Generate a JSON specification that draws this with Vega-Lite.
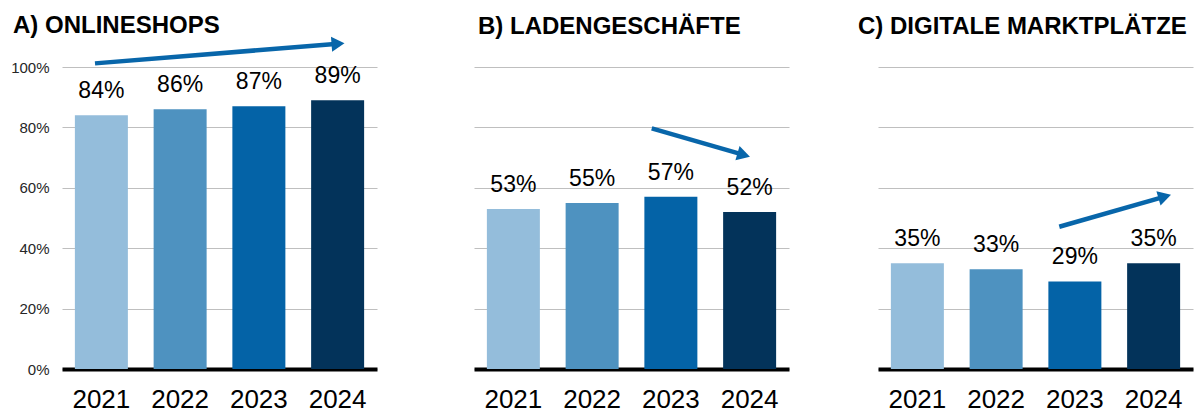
{
  "$schema": "https://vega.github.io/schema/vega-lite/v6.json",
  "background": "white",
  "padding": {"left": 10, "top": 13, "right": 3, "bottom": 0},
  "autosize": {"type": "pad"},
  "bounds": "flush",
  "spacing": 97,
  "config": {
    "font": "Liberation Sans",
    "view": {"stroke": null},
    "title": {"font": "Liberation Sans", "fontSize": 24, "fontWeight": "bold", "color": "#000000", "anchor": "start", "frame": "group", "baseline": "alphabetic", "offset": 28}
  },
  "datasets": {
    "bars": [
      {"panel": "A", "year": "2021", "share": 0.84},
      {"panel": "A", "year": "2022", "share": 0.86},
      {"panel": "A", "year": "2023", "share": 0.87},
      {"panel": "A", "year": "2024", "share": 0.89},
      {"panel": "B", "year": "2021", "share": 0.53},
      {"panel": "B", "year": "2022", "share": 0.55},
      {"panel": "B", "year": "2023", "share": 0.57},
      {"panel": "B", "year": "2024", "share": 0.52},
      {"panel": "C", "year": "2021", "share": 0.35},
      {"panel": "C", "year": "2022", "share": 0.33},
      {"panel": "C", "year": "2023", "share": 0.29},
      {"panel": "C", "year": "2024", "share": 0.35}
    ],
    "arrows": [
      {"panel": "A", "part": "start", "ax": 0.419, "ay": 1.012},
      {"panel": "A", "part": "end", "ax": 3.505, "ay": 1.077},
      {"panel": "B", "part": "start", "ax": 2.257, "ay": 0.797},
      {"panel": "B", "part": "end", "ax": 3.425, "ay": 0.709},
      {"panel": "C", "part": "start", "ax": 2.302, "ay": 0.471},
      {"panel": "C", "part": "end", "ax": 3.641, "ay": 0.571}
    ]
  },
  "hconcat": [
    {
      "width": 315,
      "height": 302,
      "title": {"text": "A) ONLINESHOPS", "dx": -49, "offset": -3},
      "layer": [
        {
          "data": {"name": "bars"},
          "transform": [{"filter": "datum.panel === 'A'"}],
          "encoding": {
            "x": {"field": "year", "type": "nominal", "scale": {"paddingInner": 0.327, "paddingOuter": 0.1635},
                  "axis": {"title": null, "labelAngle": 0, "labelFontSize": 26, "labelColor": "#000000", "labelPadding": 17, "ticks": false, "domain": true, "domainColor": "#000000", "domainWidth": 4, "grid": false}},
            "y": {"field": "share", "type": "quantitative", "scale": {"domain": [0, 1], "nice": false},
                  "axis": {"title": null, "format": ".0%", "values": [0, 0.2, 0.4, 0.6, 0.8, 1], "labelFontSize": 15, "labelColor": "#262626", "labelPadding": 13, "domain": false, "ticks": false, "grid": true, "gridColor": "#BFBFBF", "gridWidth": 1}}
          },
          "layer": [
            {"mark": {"type": "bar"},
             "encoding": {"color": {"field": "year", "type": "nominal", "legend": null, "scale": {"domain": ["2021", "2022", "2023", "2024"], "range": ["#94BDDB", "#4E92C0", "#0463A7", "#03335A"]}}}},
            {"mark": {"type": "text", "baseline": "middle", "dy": -24, "fontSize": 23, "color": "#000000"},
             "encoding": {"text": {"field": "share", "type": "quantitative", "format": ".0%"}}}
          ]
        },
        {
          "data": {"name": "arrows"},
          "transform": [{"filter": "datum.panel === 'A'"}],
          "encoding": {
            "x": {"field": "ax", "type": "quantitative", "scale": {"domain": [0, 4], "nice": false, "zero": false}, "axis": null},
            "y": {"field": "ay", "type": "quantitative", "axis": {"title": null, "format": ".0%", "values": [0, 0.2, 0.4, 0.6, 0.8, 1], "labelFontSize": 15, "labelColor": "#262626", "labelPadding": 13, "domain": false, "ticks": false, "grid": true, "gridColor": "#BFBFBF", "gridWidth": 1}}
          },
          "layer": [
            {"mark": {"type": "line", "color": "#0866AA", "strokeWidth": 4.5, "strokeCap": "butt"}},
            {"transform": [{"filter": "datum.part === 'end'"}],
             "mark": {"type": "point", "shape": "triangle-right", "size": 225, "filled": true, "opacity": 1, "color": "#0866AA", "angle": -4.5}}
          ]
        }
      ],
      "resolve": {"scale": {"x": "independent"}}
    },
    {
      "bounds": "flush",
      "spacing": 89,
      "hconcat": [
        {
          "width": 315,
          "height": 302,
          "title": {"text": "B) LADENGESCHÄFTE", "dx": 4},
          "layer": [
            {
              "data": {"name": "bars"},
              "transform": [{"filter": "datum.panel === 'B'"}],
              "encoding": {
                "x": {"field": "year", "type": "nominal", "scale": {"paddingInner": 0.327, "paddingOuter": 0.1635},
                      "axis": {"title": null, "labelAngle": 0, "labelFontSize": 26, "labelColor": "#000000", "labelPadding": 17, "ticks": false, "domain": true, "domainColor": "#000000", "domainWidth": 4, "grid": false}},
                "y": {"field": "share", "type": "quantitative", "scale": {"domain": [0, 1], "nice": false},
                      "axis": {"title": null, "labels": false, "values": [0, 0.2, 0.4, 0.6, 0.8, 1], "domain": false, "ticks": false, "grid": true, "gridColor": "#BFBFBF", "gridWidth": 1}}
              },
              "layer": [
                {"mark": {"type": "bar"},
                 "encoding": {"color": {"field": "year", "type": "nominal", "legend": null, "scale": {"domain": ["2021", "2022", "2023", "2024"], "range": ["#94BDDB", "#4E92C0", "#0463A7", "#03335A"]}}}},
                {"mark": {"type": "text", "baseline": "middle", "dy": -24, "fontSize": 23, "color": "#000000"},
                 "encoding": {"text": {"field": "share", "type": "quantitative", "format": ".0%"}}}
              ]
            },
            {
              "data": {"name": "arrows"},
              "transform": [{"filter": "datum.panel === 'B'"}],
              "encoding": {
                "x": {"field": "ax", "type": "quantitative", "scale": {"domain": [0, 4], "nice": false, "zero": false}, "axis": null},
                "y": {"field": "ay", "type": "quantitative", "axis": {"title": null, "labels": false, "values": [0, 0.2, 0.4, 0.6, 0.8, 1], "domain": false, "ticks": false, "grid": true, "gridColor": "#BFBFBF", "gridWidth": 1}}
              },
              "layer": [
                {"mark": {"type": "line", "color": "#0866AA", "strokeWidth": 4.5, "strokeCap": "butt"}},
                {"transform": [{"filter": "datum.part === 'end'"}],
                 "mark": {"type": "point", "shape": "triangle-right", "size": 225, "filled": true, "opacity": 1, "color": "#0866AA", "angle": 16.1}}
              ]
            }
          ],
          "resolve": {"scale": {"x": "independent"}}
        },
        {
          "width": 315,
          "height": 302,
          "title": {"text": "C) DIGITALE MARKTPLÄTZE", "dx": -20},
          "layer": [
            {
              "data": {"name": "bars"},
              "transform": [{"filter": "datum.panel === 'C'"}],
              "encoding": {
                "x": {"field": "year", "type": "nominal", "scale": {"paddingInner": 0.327, "paddingOuter": 0.1635},
                      "axis": {"title": null, "labelAngle": 0, "labelFontSize": 26, "labelColor": "#000000", "labelPadding": 17, "ticks": false, "domain": true, "domainColor": "#000000", "domainWidth": 4, "grid": false}},
                "y": {"field": "share", "type": "quantitative", "scale": {"domain": [0, 1], "nice": false},
                      "axis": {"title": null, "labels": false, "values": [0, 0.2, 0.4, 0.6, 0.8, 1], "domain": false, "ticks": false, "grid": true, "gridColor": "#BFBFBF", "gridWidth": 1}}
              },
              "layer": [
                {"mark": {"type": "bar"},
                 "encoding": {"color": {"field": "year", "type": "nominal", "legend": null, "scale": {"domain": ["2021", "2022", "2023", "2024"], "range": ["#94BDDB", "#4E92C0", "#0463A7", "#03335A"]}}}},
                {"mark": {"type": "text", "baseline": "middle", "dy": -24, "fontSize": 23, "color": "#000000"},
                 "encoding": {"text": {"field": "share", "type": "quantitative", "format": ".0%"}}}
              ]
            },
            {
              "data": {"name": "arrows"},
              "transform": [{"filter": "datum.panel === 'C'"}],
              "encoding": {
                "x": {"field": "ax", "type": "quantitative", "scale": {"domain": [0, 4], "nice": false, "zero": false}, "axis": null},
                "y": {"field": "ay", "type": "quantitative", "axis": {"title": null, "labels": false, "values": [0, 0.2, 0.4, 0.6, 0.8, 1], "domain": false, "ticks": false, "grid": true, "gridColor": "#BFBFBF", "gridWidth": 1}}
              },
              "layer": [
                {"mark": {"type": "line", "color": "#0866AA", "strokeWidth": 4.5, "strokeCap": "butt"}},
                {"transform": [{"filter": "datum.part === 'end'"}],
                 "mark": {"type": "point", "shape": "triangle-right", "size": 225, "filled": true, "opacity": 1, "color": "#0866AA", "angle": -16.0}}
              ]
            }
          ],
          "resolve": {"scale": {"x": "independent"}}
        }
      ]
    }
  ]
}
